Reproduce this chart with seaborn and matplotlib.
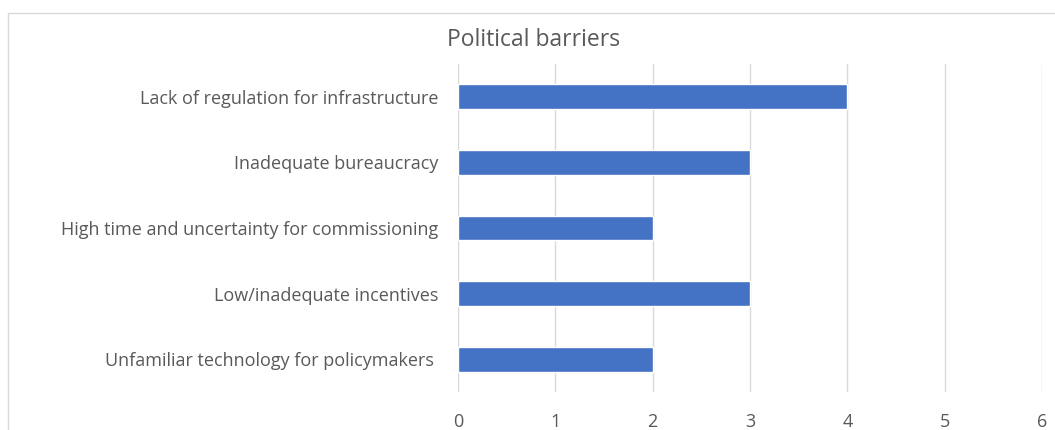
import matplotlib
matplotlib.use('Agg')
import matplotlib.pyplot as plt
import seaborn as sns
import pandas as pd
from matplotlib.patches import Rectangle

# Datos del gráfico
barriers = ['Lack of regulation for infrastructure',
            'Inadequate bureaucracy',
            'High time and uncertainty for commissioning',
            'Low/inadequate incentives',
            'Unfamiliar technology for policymakers ']
counts = [4, 3, 2, 3, 2]
xticks = [0, 1, 2, 3, 4, 5, 6]

df = pd.DataFrame({'barrier': barriers, 'count': counts})

sns.set_style('white')
plt.rcParams['font.family'] = ['Open Sans', 'DejaVu Sans']

fig = plt.figure(figsize=(10.55, 4.30), dpi=100)
ax = fig.add_axes([458 / 1055, 1 - 392 / 430, (1042 - 458) / 1055, (392 - 64) / 430])

sns.barplot(data=df, x='count', y='barrier', orient='h', color='#4472C4',
            width=0.38, saturation=1, ax=ax, zorder=3)

# Ejes y cuadrícula
ax.set_xlim(0, 6)
ax.set_xticks(xticks)
ax.grid(axis='x', color='#D9D9D9', linewidth=1, zorder=0)
ax.grid(axis='y', visible=False)
for s in ax.spines.values():
    s.set_visible(False)
ax.tick_params(axis='both', length=0, colors='#595959', labelsize=13)
ax.tick_params(axis='y', pad=14)
ax.tick_params(axis='x', pad=15)
ax.set_xlabel('')
ax.set_ylabel('')

# Título
fig.text(534 / 1055, 1 - 40 / 430, 'Political barriers', ha='center', va='center',
         fontsize=16.5, color='#595959')

# Borde del área del gráfico
fig.patches.append(Rectangle((8 / 1055, -0.1), 1.1, 1 - 13 / 430 + 0.1,
                             transform=fig.transFigure, fill=False,
                             edgecolor='#D9D9D9', linewidth=1))

plt.savefig('out.png', dpi=100)
